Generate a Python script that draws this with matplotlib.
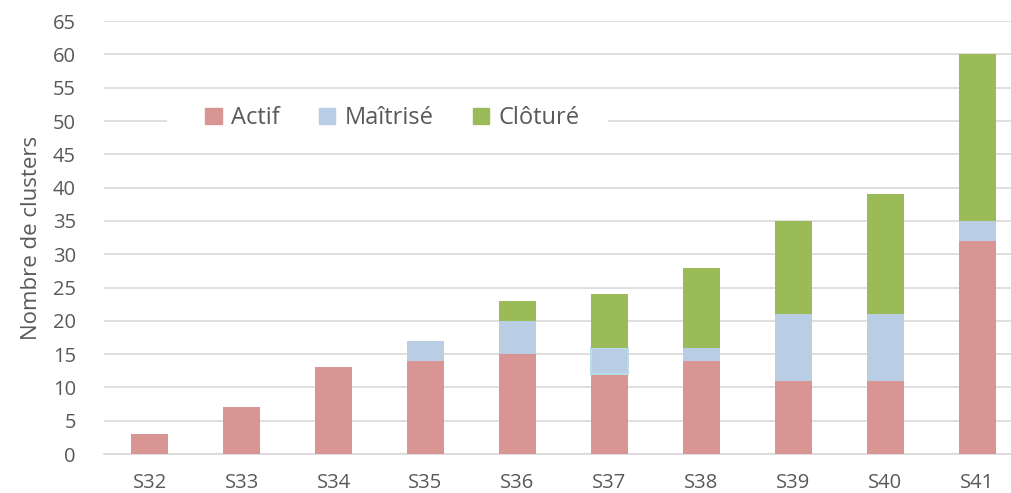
import numpy as np
from matplotlib import pyplot as plt
from matplotlib.patches import Patch, Rectangle

plt.rcParams['font.family'] = ['Open Sans', 'DejaVu Sans']

semaines = ['S32', 'S33', 'S34', 'S35', 'S36', 'S37', 'S38', 'S39', 'S40', 'S41']
actif = [3, 7, 13, 14, 15, 12, 14, 11, 11, 32]
maitrise = [0, 0, 0, 3, 5, 4, 2, 10, 10, 3]
cloture = [0, 0, 0, 0, 3, 8, 12, 14, 18, 25]

c_actif = '#D99594'
c_maitrise = '#B9CDE5'
c_cloture = '#9BBB59'
gris = '#595959'

fig = plt.figure(figsize=(10.11, 4.93), dpi=100)
# l'axe depasse un peu a droite (image coupee comme l'original)
ax = fig.add_axes([0.1026, 0.079, 0.9095, 0.878])

x = np.arange(len(semaines))
actif = np.array(actif)
maitrise = np.array(maitrise)
cloture = np.array(cloture)
w = 0.40

ax.bar(x, actif, w, color=c_actif, zorder=3)
barres_m = ax.bar(x, maitrise, w, bottom=actif, color=c_maitrise, zorder=3)
ax.bar(x, cloture, w, bottom=actif + maitrise, color=c_cloture, zorder=3)
# petit contour cyan sur S37 (present dans l'original)
barres_m[5].set_edgecolor('#B7DEE8')
barres_m[5].set_linewidth(1.5)

ax.set_xlim(-0.5, len(semaines) - 0.5)
ax.set_ylim(0, 65)
ax.set_yticks(range(0, 66, 5))
ax.set_xticks(x)
ax.set_xticklabels(semaines)
ax.tick_params(axis='both', length=0, labelsize=14.5, colors=gris)
ax.tick_params(axis='x', pad=14)
ax.tick_params(axis='y', pad=20)
ax.yaxis.grid(True, color='#D9D9D9', linewidth=1.2, zorder=0)
for s in ['top', 'right', 'left']:
    ax.spines[s].set_visible(False)
ax.spines['bottom'].set_color('#D9D9D9')
ax.spines['bottom'].set_linewidth(1.2)
ax.set_ylabel('Nombre de clusters', fontsize=16, color=gris, labelpad=8)

# fond blanc de la legende (comme Excel)
ax.add_patch(Rectangle((0.069, 0.735), 0.479, 0.083, transform=ax.transAxes,
                       facecolor='white', edgecolor='none', zorder=4))

handles = [Patch(color=c_actif, label='Actif'),
           Patch(color=c_maitrise, label='Maîtrisé'),
           Patch(color=c_cloture, label='Clôturé')]
leg = ax.legend(handles=handles, loc='center', bbox_to_anchor=(0.314, 0.776),
                ncol=3, fontsize=17, frameon=False,
                handlelength=0.7, handleheight=0.7,
                handletextpad=0.4, columnspacing=1.65)
for t in leg.get_texts():
    t.set_color(gris)
leg.set_zorder(5)

plt.savefig('out.png')
